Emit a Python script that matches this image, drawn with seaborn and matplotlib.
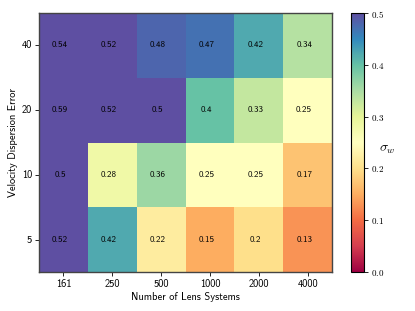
import numpy as np
import pandas as pd
import matplotlib
matplotlib.use("Agg")
import matplotlib.pyplot as plt
import seaborn as sns

# values
n_lens = ["161", "250", "500", "1000", "2000", "4000"]
vel_err = ["40", "20", "10", "5"]
sig_40 = [0.54, 0.52, 0.48, 0.47, 0.42, 0.34]
sig_20 = [0.59, 0.52, 0.5, 0.4, 0.33, 0.25]
sig_10 = [0.5, 0.28, 0.36, 0.25, 0.25, 0.17]
sig_5 = [0.52, 0.42, 0.22, 0.15, 0.2, 0.13]

df = pd.DataFrame([sig_40, sig_20, sig_10, sig_5], index=vel_err, columns=n_lens)

plt.rcParams["mathtext.fontset"] = "cm"
sans = ["cmss10", "DejaVu Sans"]

fig = plt.figure(figsize=(4.15, 3.11), dpi=100)
ax = fig.add_axes([39 / 415, 1 - 272 / 311, 293 / 415, 259 / 311])
cax = fig.add_axes([351 / 415, 1 - 272 / 311, 13 / 415, 259 / 311])

sns.heatmap(df, ax=ax, cbar_ax=cax, cmap="Spectral", vmin=0, vmax=0.5,
            annot=True, fmt="g", annot_kws={"fontsize": 6.5, "color": "black", "family": sans})

# nudge the numbers a bit left like in the original
for t in ax.texts:
    x, y = t.get_position()
    t.set_position((x - 0.07, y))

for s in ax.spines.values():
    s.set_visible(True)
    s.set_color("#444444")
    s.set_linewidth(1.0)

ax.set_xlabel("Number of Lens Systems", fontsize=7.5, family=sans, labelpad=2)
ax.set_ylabel("Velocity Dispersion Error", fontsize=7.5, family=sans, labelpad=3)
ax.set_xticklabels(n_lens, fontsize=7.5, family=sans)
ax.set_yticklabels(vel_err, fontsize=7.5, family=sans, rotation=0)
ax.tick_params(length=3, width=0.6, pad=2)

cb = ax.collections[0].colorbar
cb.set_ticks([0.0, 0.1, 0.2, 0.3, 0.4, 0.5])
cb.set_ticklabels(["$0.0$", "$0.1$", "$0.2$", "$0.3$", "$0.4$", "$0.5$"])
cax.tick_params(labelsize=6.5, length=3, width=0.6, pad=2)
cb.outline.set_linewidth(0.8)
cb.set_label(r"$\sigma_w$", rotation=0, fontsize=10, labelpad=2)

fig.savefig("out.png", dpi=100)
